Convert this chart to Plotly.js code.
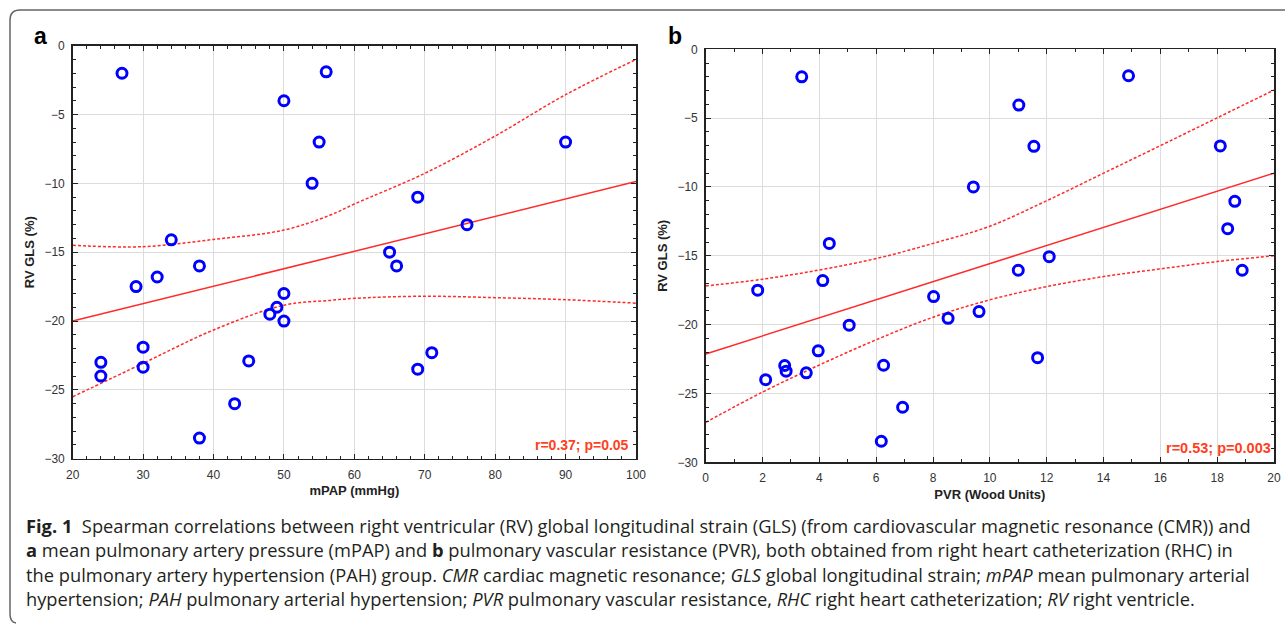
<!DOCTYPE html>
<html>
<head>
<meta charset="utf-8">
<script src="https://cdn.plot.ly/plotly-3.0.1.min.js"></script>
<style>
html,body{margin:0;padding:0;background:#fff;}
#chart{width:1285px;height:624px;}
</style>
</head>
<body>
<div id="chart"></div>
<script>
// ---- Panel a: mPAP vs RV GLS ----
const mpap = [27, 50, 55, 54, 56, 90, 69, 76, 34, 38, 32, 29, 50, 49, 48, 50, 30, 24, 30, 24, 45, 43, 38, 65, 66, 69, 71];
const glsA = [-2, -4, -7, -10, -1.9, -7, -11, -13, -14.1, -16, -16.8, -17.5, -18, -19, -19.5, -20, -21.9, -23, -23.35, -24, -22.9, -26, -28.5, -15, -16, -23.5, -22.3];
const fitAX = [20, 100];
const fitAY = [-20, -9.87];
const bandAX = [20, 30, 40, 50, 56.6, 60, 70, 80, 90, 100];
const bandAUpper = [-14.5, -14.6, -14.07, -13.39, -12.3, -11.5, -9.27, -6.56, -3.56, -1.0];
const bandALower = [-25.5, -23.07, -20.65, -18.85, -18.5, -18.35, -18.2, -18.3, -18.45, -18.7];

// ---- Panel b: PVR vs RV GLS ----
const pvr = [3.38, 4.35, 9.42, 11.02, 11.55, 14.88, 18.11, 18.62, 18.37, 1.83, 4.12, 5.05, 3.96, 2.78, 2.83, 2.11, 3.54, 6.26, 6.93, 6.18, 8.02, 8.53, 9.62, 11.0, 12.09, 11.68, 18.88];
const glsB = [-2, -14.1, -10, -4.05, -7.05, -1.92, -7.02, -11.04, -13.03, -17.5, -16.8, -20.04, -21.9, -22.97, -23.38, -24, -23.5, -22.95, -26, -28.47, -17.96, -19.54, -19.05, -16.05, -15.06, -22.4, -16.05];
const fitBX = [0, 20];
const fitBY = [-22.13, -9.0];
const bandBX = [0, 2, 4, 6, 8, 10, 12, 14, 16, 18, 20];
const bandBUpper = [-17.19, -16.7, -16.03, -15.2, -14.1, -12.85, -11.0, -9.0, -7.0, -4.98, -2.96];
const bandBLower = [-27.1, -24.9, -22.93, -21.1, -19.46, -18.2, -17.24, -16.51, -15.95, -15.42, -15.0];

const statsA = 'r=0.37; p=0.05';
const statsB = 'r=0.53; p=0.003';
const yTitle = 'RV GLS (%)';
const xTitleA = 'mPAP (mmHg)';
const xTitleB = 'PVR (Wood Units)';

const captionLines = [
  '<b>Fig. 1</b>  Spearman correlations between right ventricular (RV) global longitudinal strain (GLS) (from cardiovascular magnetic resonance (CMR)) and',
  '<b>a</b> mean pulmonary artery pressure (mPAP) and <b>b</b> pulmonary vascular resistance (PVR), both obtained from right heart catheterization (RHC) in',
  'the pulmonary artery hypertension (PAH) group. <i>CMR</i> cardiac magnetic resonance; <i>GLS</i> global longitudinal strain; <i>mPAP</i> mean pulmonary arterial',
  'hypertension; <i>PAH</i> pulmonary arterial hypertension; <i>PVR</i> pulmonary vascular resistance, <i>RHC</i> right heart catheterization; <i>RV</i> right ventricle.'
];

const W = 1285, H = 624;
const px = v => v / W;
const py = v => (H - v) / H;

const red = '#ff2a2a';
const marker = {symbol: 'circle-open', size: 10, color: '#0000ff', line: {width: 3, color: '#0000ff'}};
const dashLine = {color: red, width: 1.5, dash: '3px,2px', shape: 'spline', smoothing: 1};

const traces = [
  {x: bandAX, y: bandAUpper, xaxis: 'x', yaxis: 'y', mode: 'lines', line: dashLine, hoverinfo: 'skip'},
  {x: bandAX, y: bandALower, xaxis: 'x', yaxis: 'y', mode: 'lines', line: dashLine, hoverinfo: 'skip'},
  {x: fitAX, y: fitAY, xaxis: 'x', yaxis: 'y', mode: 'lines', line: {color: red, width: 1.5}},
  {x: mpap, y: glsA, xaxis: 'x', yaxis: 'y', mode: 'markers', marker: marker, cliponaxis: false},
  {x: bandBX, y: bandBUpper, xaxis: 'x2', yaxis: 'y2', mode: 'lines', line: dashLine, hoverinfo: 'skip'},
  {x: bandBX, y: bandBLower, xaxis: 'x2', yaxis: 'y2', mode: 'lines', line: dashLine, hoverinfo: 'skip'},
  {x: fitBX, y: fitBY, xaxis: 'x2', yaxis: 'y2', mode: 'lines', line: {color: red, width: 1.5}},
  {x: pvr, y: glsB, xaxis: 'x2', yaxis: 'y2', mode: 'markers', marker: marker, cliponaxis: false}
];

const axFont = {family: 'Liberation Sans, Arial, sans-serif', size: 12, color: '#333'};
const titleFont = {family: 'Liberation Sans, Arial, sans-serif', size: 13, color: '#222'};
function xax(domain, range, dtick, minor, anchor, title) {
  return {
    domain: domain, range: range, dtick: dtick, tick0: range[0], anchor: anchor,
    ticks: 'inside', ticklen: 5, tickwidth: 1, tickcolor: '#222',
    minor: {dtick: minor, ticks: 'inside', ticklen: 3, tickwidth: 1, tickcolor: '#222', showgrid: false},
    showgrid: true, gridcolor: '#dcdcdc', gridwidth: 1, zeroline: false,
    showline: true, linecolor: '#222', linewidth: 1.5, mirror: 'ticks',
    tickfont: axFont, ticklabelstandoff: 4,
    title: {text: '<b>' + title + '</b>', font: titleFont, standoff: 5},
    automargin: false, fixedrange: true
  };
}
function yax(domain, anchor) {
  return {
    domain: domain, range: [-30, 0], dtick: 5, tick0: 0, anchor: anchor,
    ticks: 'inside', ticklen: 5, tickwidth: 1, tickcolor: '#222',
    minor: {dtick: 1, ticks: 'inside', ticklen: 3, tickwidth: 1, tickcolor: '#222', showgrid: false},
    showgrid: true, gridcolor: '#dcdcdc', gridwidth: 1, zeroline: false,
    showline: true, linecolor: '#222', linewidth: 1.5, mirror: 'ticks',
    tickfont: axFont, ticklabelstandoff: 4,
    title: {text: '<b>' + yTitle + '</b>', font: titleFont, standoff: 7},
    automargin: false, fixedrange: true
  };
}

const capFont = {family: 'Open Sans, Noto Sans, sans-serif', size: 18.3, color: '#231f20'};
const captionYs = [525, 549, 574, 598];
const annotations = [
  {xref: 'paper', yref: 'paper', x: px(32), y: py(36), text: '<b>a</b>', showarrow: false, xanchor: 'left', yanchor: 'middle', font: {family: 'Liberation Sans, Arial, sans-serif', size: 23, color: '#000'}},
  {xref: 'paper', yref: 'paper', x: px(666), y: py(36), text: '<b>b</b>', showarrow: false, xanchor: 'left', yanchor: 'middle', font: {family: 'Liberation Sans, Arial, sans-serif', size: 23, color: '#000'}},
  {xref: 'x domain', yref: 'y domain', x: 0.992, y: 0.01, text: '<b>' + statsA + '</b>', showarrow: false, xanchor: 'right', yanchor: 'bottom', font: {family: 'Liberation Sans, Arial, sans-serif', size: 14, color: '#ff4020'}},
  {xref: 'x2 domain', yref: 'y2 domain', x: 0.998, y: 0.01, text: '<b>' + statsB + '</b>', showarrow: false, xanchor: 'right', yanchor: 'bottom', font: {family: 'Liberation Sans, Arial, sans-serif', size: 14.5, color: '#ff4020'}}
];
captionLines.forEach((t, i) => {
  annotations.push({xref: 'paper', yref: 'paper', x: px(24), y: py(captionYs[i]), text: t, showarrow: false, xanchor: 'left', yanchor: 'middle', align: 'left', font: capFont});
});

const border = 'M ' + px(16) + ',' + py(623) + ' Q ' + px(10) + ',' + py(622) + ' ' + px(10) + ',' + py(614) +
  ' L ' + px(10) + ',' + py(20) +
  ' Q ' + px(10) + ',' + py(10) + ' ' + px(20) + ',' + py(10) + ' L ' + px(1285) + ',' + py(10);

const layout = {
  width: W, height: H,
  margin: {l: 0, r: 0, t: 0, b: 0, pad: 0},
  paper_bgcolor: '#fff', plot_bgcolor: '#fff',
  showlegend: false,
  xaxis: xax([px(72.7), px(636)], [20, 100], 10, 2, 'y', xTitleA),
  yaxis: yax([py(458.7), py(45.7)], 'x'),
  xaxis2: xax([px(705.7), px(1274)], [0, 20], 2, 1, 'y2', xTitleB),
  yaxis2: yax([py(462.3), py(49.3)], 'x2'),
  annotations: annotations,
  shapes: [{type: 'path', xref: 'paper', yref: 'paper', path: border, line: {color: '#666', width: 1.5}}]
};

Plotly.newPlot('chart', traces, layout, {displayModeBar: false, staticPlot: true});
</script>
</body>
</html>
